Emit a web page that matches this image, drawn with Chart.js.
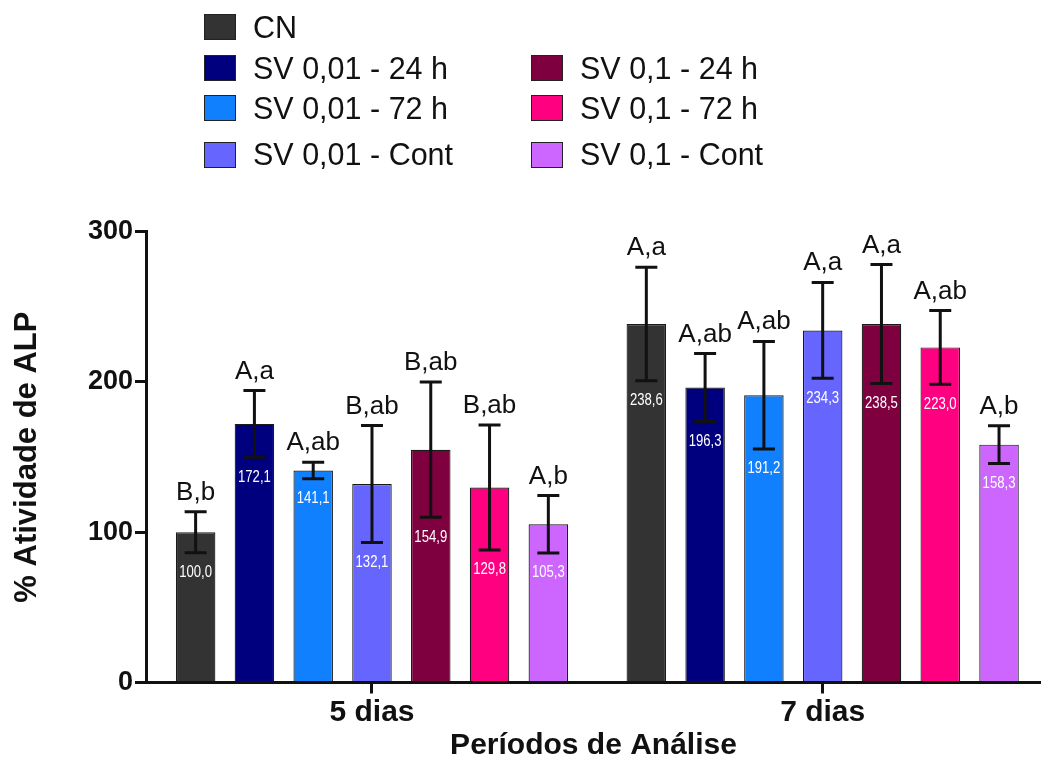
<!DOCTYPE html>
<html>
<head>
<meta charset="utf-8">
<title>% Atividade de ALP</title>
<script src="https://cdn.jsdelivr.net/npm/chart.js@4.4.1/dist/chart.umd.min.js"></script>
<style>
  html, body { margin: 0; padding: 0; background: #fff; overflow: hidden; }
  #wrap { position: absolute; left: 0; top: 0; width: 1041px; height: 764px; }
  #chart { position: absolute; left: 0; top: 0; }
  #legend {
    position: absolute; left: 0; top: 0; width: 1041px; height: 190px;
    font-family: "Liberation Sans", Arial, Helvetica, sans-serif;
    font-size: 30.5px; color: #111; line-height: 1;
  }
  .item { position: absolute; display: flex; align-items: center; height: 26px; white-space: nowrap; }
  .box { width: 30px; height: 24px; border: 1px solid #222; margin-right: 17px; flex: none; }
</style>
</head>
<body>
<div id="wrap">
  <canvas id="chart" width="1041" height="764"></canvas>
  <div id="legend"></div>
</div>
<script>
// Analysis periods (x categories)
const categories = ['5 dias', '7 dias'];

// Groups
const seriesNames = [
  'CN',
  'SV 0,01 - 24 h',
  'SV 0,01 - 72 h',
  'SV 0,01 - Cont',
  'SV 0,1 - 24 h',
  'SV 0,1 - 72 h',
  'SV 0,1 - Cont'
];

// Mean ALP activity (%) per group, [5 dias, 7 dias]
const cnValues       = [100.0, 238.6];
const sv001h24Values = [172.1, 196.3];
const sv001h72Values = [141.1, 191.2];
const sv001ContValues= [132.1, 234.3];
const sv01h24Values  = [154.9, 238.5];
const sv01h72Values  = [129.8, 223.0];
const sv01ContValues = [105.3, 158.3];

// Standard deviations, [5 dias, 7 dias]
const cnErrors       = [13.6, 37.8];
const sv001h24Errors = [22.2, 22.6];
const sv001h72Errors = [5.5, 35.8];
const sv001ContErrors= [38.9, 31.9];
const sv01h24Errors  = [45.0, 39.6];
const sv01h72Errors  = [41.6, 24.5];
const sv01ContErrors = [19.1, 12.5];

// Statistical letters, [5 dias, 7 dias]
const cnLetters       = ['B,b', 'A,a'];
const sv001h24Letters = ['A,a', 'A,ab'];
const sv001h72Letters = ['A,ab', 'A,ab'];
const sv001ContLetters= ['B,ab', 'A,a'];
const sv01h24Letters  = ['B,ab', 'A,a'];
const sv01h72Letters  = ['B,ab', 'A,ab'];
const sv01ContLetters = ['A,b', 'A,b'];

// Y axis ticks
const yTicks = [0, 100, 200, 300];

const values  = [cnValues, sv001h24Values, sv001h72Values, sv001ContValues, sv01h24Values, sv01h72Values, sv01ContValues];
const errors  = [cnErrors, sv001h24Errors, sv001h72Errors, sv001ContErrors, sv01h24Errors, sv01h72Errors, sv01ContErrors];
const letters = [cnLetters, sv001h24Letters, sv001h72Letters, sv001ContLetters, sv01h24Letters, sv01h72Letters, sv01ContLetters];

const colors = ['#333333', '#00007F', '#1080FF', '#6666FF', '#7F003F', '#FF0080', '#CC66FF'];

const INK = '#111111';
const SANS = '"Liberation Sans", Arial, Helvetica, sans-serif';

const fmt = v => v.toFixed(1).replace('.', ',');

// Error bars, group letters above and the mean value inside each bar
const errorBarPlugin = {
  id: 'errorBars',
  afterDatasetsDraw(chart) {
    const { ctx } = chart;
    const y = chart.scales.y;
    chart.data.datasets.forEach((ds, s) => {
      const meta = chart.getDatasetMeta(s);
      meta.data.forEach((bar, i) => {
        const v = values[s][i];
        const e = errors[s][i];
        const yTop = y.getPixelForValue(v + e);
        const yBot = y.getPixelForValue(v - e);
        const x = bar.x;
        const cap = 11;

        ctx.save();
        ctx.strokeStyle = INK;
        ctx.lineWidth = 3;
        ctx.lineCap = 'butt';
        ctx.beginPath();
        ctx.moveTo(x, yTop); ctx.lineTo(x, yBot);
        ctx.moveTo(x - cap, yTop); ctx.lineTo(x + cap, yTop);
        ctx.moveTo(x - cap, yBot); ctx.lineTo(x + cap, yBot);
        ctx.stroke();

        ctx.fillStyle = INK;
        ctx.font = '26px ' + SANS;
        ctx.textAlign = 'center';
        ctx.textBaseline = 'alphabetic';
        ctx.fillText(letters[s][i], x, yTop - 12);
        ctx.restore();

        // condensed white value label
        ctx.save();
        ctx.translate(x, yBot + 20);
        ctx.scale(0.82, 1);
        ctx.fillStyle = '#ffffff';
        ctx.font = '16px ' + SANS;
        ctx.textAlign = 'center';
        ctx.textBaseline = 'middle';
        ctx.fillText(fmt(v), 0, 0);
        ctx.restore();
      });
    });
  }
};

const ctx = document.getElementById('chart').getContext('2d');
const chart = new Chart(ctx, {
  type: 'bar',
  data: {
    datasets: seriesNames.map((name, s) => ({
      label: name,
      data: categories.map((c, i) => ({ x: i, y: values[s][i] })),
      backgroundColor: colors[s],
      borderColor: '#1a1a1a',
      borderWidth: 1.2,
      categoryPercentage: 0.913,
      barPercentage: 0.672
    }))
  },
  options: {
    responsive: false,
    devicePixelRatio: 1,
    animation: false,
    layout: { padding: { top: 231.7, right: 0, bottom: 0, left: 0 } },
    plugins: {
      legend: { display: false },
      tooltip: { enabled: false }
    },
    scales: {
      x: {
        type: 'linear',
        min: -0.5014,
        max: 1.4844,
        offset: false,
        afterBuildTicks: scale => { scale.ticks = categories.map((c, i) => ({ value: i })); },
        afterFit: scale => { scale.height = 81.5; },
        ticks: {
          callback: v => categories[v] ?? '',
          color: INK,
          padding: 1,
          font: { family: SANS, size: 30, weight: 'bold' }
        },
        grid: { display: true, offset: false, drawOnChartArea: false, drawTicks: true, tickLength: 11, lineWidth: 3, color: INK },
        border: { display: true, width: 3, color: INK },
        title: {
          display: true,
          text: 'Períodos de Análise',
          color: INK,
          padding: { top: 0, bottom: 0 },
          font: { family: SANS, size: 30, weight: 'bold' }
        }
      },
      y: {
        min: 0,
        max: 300,
        afterBuildTicks: scale => { scale.ticks = yTicks.map(v => ({ value: v })); },
        afterFit: scale => { scale.width = 146; },
        ticks: {
          color: INK,
          padding: 2,
          font: { family: SANS, size: 27, weight: 'bold' }
        },
        grid: { display: true, drawOnChartArea: false, drawTicks: true, tickLength: 11, lineWidth: 3, color: INK },
        border: { display: true, width: 3, color: INK },
        title: {
          display: true,
          text: '% Atividade de ALP',
          color: INK,
          padding: { top: 9, bottom: 0 },
          font: { family: SANS, size: 31, weight: 'bold' }
        }
      }
    }
  },
  plugins: [errorBarPlugin]
});

// Legend in two columns; the control group sits alone on the first row
const legendSlots = [[0, 0], [0, 1], [0, 2], [0, 3], [1, 1], [1, 2], [1, 3]];
const colLeft = [204, 531];
const rowTop = [14, 55, 95, 141.5];
const legendEl = document.getElementById('legend');
chart.data.datasets.forEach((ds, s) => {
  const [col, row] = legendSlots[s];
  const item = document.createElement('div');
  item.className = 'item';
  item.style.left = colLeft[col] + 'px';
  item.style.top = rowTop[row] + 'px';
  const box = document.createElement('span');
  box.className = 'box';
  box.style.background = ds.backgroundColor;
  const txt = document.createElement('span');
  txt.textContent = ds.label;
  item.appendChild(box);
  item.appendChild(txt);
  legendEl.appendChild(item);
});
</script>
</body>
</html>
